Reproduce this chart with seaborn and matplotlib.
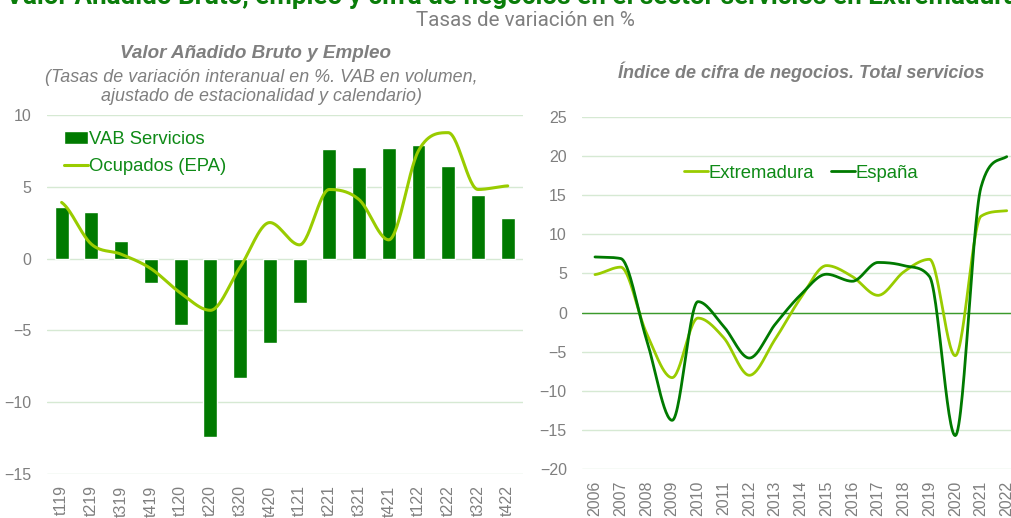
import numpy as np
import pandas as pd
import seaborn as sns
import matplotlib.pyplot as plt

# Left panel: quarterly rates (%)
quarters = ['t119', 't219', 't319', 't419', 't120', 't220', 't320', 't420',
            't121', 't221', 't321', 't421', 't122', 't222', 't322', 't422']
vab_servicios = [3.6, 3.2, 1.2, -1.7, -4.6, -12.4, -8.3, -5.9,
                 -3.1, 7.6, 6.35, 7.7, 7.9, 6.4, 4.4, 2.8]
ocupados_epa = [3.9, 1.0, 0.3, -0.7, -2.4, -3.6, -0.6, 2.5,
                0.95, 4.8, 4.1, 1.3, 7.5, 8.75, 4.8, 5.05]

# Right panel: yearly turnover index rates (%)
years = list(range(2006, 2023))
extremadura = [4.85, 5.8, -2.6, -8.3, -0.7, -3.2, -8.0, -3.4, 1.9,
               6.0, 4.6, 2.2, 5.2, 6.8, -5.5, 12.3, 13.0]
espana = [7.1, 6.9, -3.4, -13.75, 1.4, -1.75, -5.8, -1.5, 2.3,
          4.9, 4.0, 6.4, 6.0, 4.6, -15.7, 16.0, 19.9]

DARK = '#007a00'
LIGHT = '#99cc00'
GRID = '#d6e9d3'
TICK = '#7f7f7f'
TEXT_GREEN = '#0e8a16'


def smooth_line(x, y, n=30):
    """Smoothed line through every point (cubic Bezier, damped tangents)."""
    x = np.asarray(x, float)
    y = np.asarray(y, float)
    d = np.diff(y) / np.diff(x)
    m = np.zeros_like(y)
    m[0], m[-1] = d[0] / 2, d[-1] / 2
    for i in range(1, len(y) - 1):
        if d[i - 1] * d[i] <= 0:
            m[i] = 0.0
        else:
            m[i] = np.sign(d[i]) * min(abs(d[i - 1] + d[i]) / 2,
                                       3 * min(abs(d[i - 1]), abs(d[i])))
    t = np.linspace(0, 1, n)
    xs, ys = [], []
    for i in range(len(y) - 1):
        h = x[i + 1] - x[i]
        y0, y3 = y[i], y[i + 1]
        y1, y2 = y0 + m[i] * h / 3, y3 - m[i + 1] * h / 3
        xs.extend(x[i] + h * t)
        ys.extend((1 - t) ** 3 * y0 + 3 * (1 - t) ** 2 * t * y1
                  + 3 * (1 - t) * t ** 2 * y2 + t ** 3 * y3)
    return np.array(xs), np.array(ys)


sns.set_theme(style="white")
plt.rcParams['font.family'] = ['Liberation Sans', 'DejaVu Sans']

fig = plt.figure(figsize=(10.12, 5.18), dpi=100)
ax1 = fig.add_axes([0.0462, 0.0844, 0.4702, 0.6942])
ax2 = fig.add_axes([0.5752, 0.094, 0.4323, 0.6807])

# ---- left panel
df_q = pd.DataFrame({'trimestre': quarters, 'vab': vab_servicios})
sns.barplot(data=df_q, x='trimestre', y='vab', color=DARK, saturation=1,
            width=0.47, ax=ax1, label='VAB Servicios')
sx, sy = smooth_line(np.arange(len(quarters)), ocupados_epa)
sns.lineplot(x=sx, y=sy, sort=False, estimator=None, color=LIGHT, lw=2.2,
             ax=ax1, label='Ocupados (EPA)')
ax1.set_xlim(-0.5, len(quarters) - 0.5)
ax1.set_ylim(-15, 10)
ax1.set_yticks(range(-15, 11, 5))

# ---- right panel
sx, sy = smooth_line(years, extremadura)
sns.lineplot(x=sx, y=sy, sort=False, estimator=None, color=LIGHT, lw=2,
             ax=ax2, label='Extremadura')
sx, sy = smooth_line(years, espana)
sns.lineplot(x=sx, y=sy, sort=False, estimator=None, color=DARK, lw=2,
             ax=ax2, label='España')
ax2.axhline(0, color='#3c9a2c', lw=1, zorder=1)
ax2.set_xlim(years[0] - 0.5, years[-1] + 0.5)
ax2.set_ylim(-20, 25)
ax2.set_yticks(range(-20, 26, 5))
ax2.set_xticks(years)

for ax in (ax1, ax2):
    ax.set_xlabel('')
    ax.set_ylabel('')
    ax.yaxis.grid(True, color=GRID, lw=1)
    ax.set_axisbelow(True)
    for s in ax.spines.values():
        s.set_visible(False)
    ax.tick_params(axis='y', length=0, pad=11, labelsize=11.5, labelcolor=TICK)
    ax.tick_params(axis='x', length=0, pad=8, labelsize=11.5, labelcolor=TICK,
                   labelrotation=90)

# legend: bars first, then line
h, l = ax1.get_legend_handles_labels()
order = [l.index('VAB Servicios'), l.index('Ocupados (EPA)')]
leg1 = ax1.legend([h[i] for i in order], [l[i] for i in order],
                  loc='upper left', bbox_to_anchor=(0.02, 0.975), frameon=False,
                  fontsize=13.3, handlelength=1.3, handletextpad=0.05,
                  labelspacing=0.55, borderaxespad=0)
leg2 = ax2.legend(loc='upper center', bbox_to_anchor=(0.5, 0.885), frameon=False,
                  ncol=2, fontsize=13.3, handlelength=1.3, handletextpad=0.05,
                  columnspacing=0.9, borderaxespad=0)
for leg in (leg1, leg2):
    for t in leg.get_texts():
        t.set_color(TEXT_GREEN)

# ---- titles
fig.text(0.506, 0.992, 'Valor Añadido Bruto, empleo y cifra de negocios en el sector servicios en Extremadura',
         ha='center', va='baseline', fontsize=18.7, fontweight='bold', color='#0a7d0a',
         family='Roboto')
fig.text(0.519, 0.961, 'Tasas de variación en %', ha='center', va='center',
         fontsize=14.8, color='#7f7f7f', family='Roboto')
fig.text(0.252, 0.897, 'Valor Añadido Bruto y Empleo', ha='center', va='center',
         fontsize=13.6, fontweight='bold', style='italic', color=TICK)
fig.text(0.258, 0.832, '(Tasas de variación interanual en %. VAB en volumen,\najustado de estacionalidad y calendario)',
         ha='center', va='center', fontsize=12.9, style='italic', color=TICK,
         linespacing=1.2)
fig.text(0.792, 0.862, 'Índice de cifra de negocios. Total servicios', ha='center',
         va='center', fontsize=13, fontweight='bold', style='italic', color=TICK)

fig.savefig('out.png', dpi=100)
